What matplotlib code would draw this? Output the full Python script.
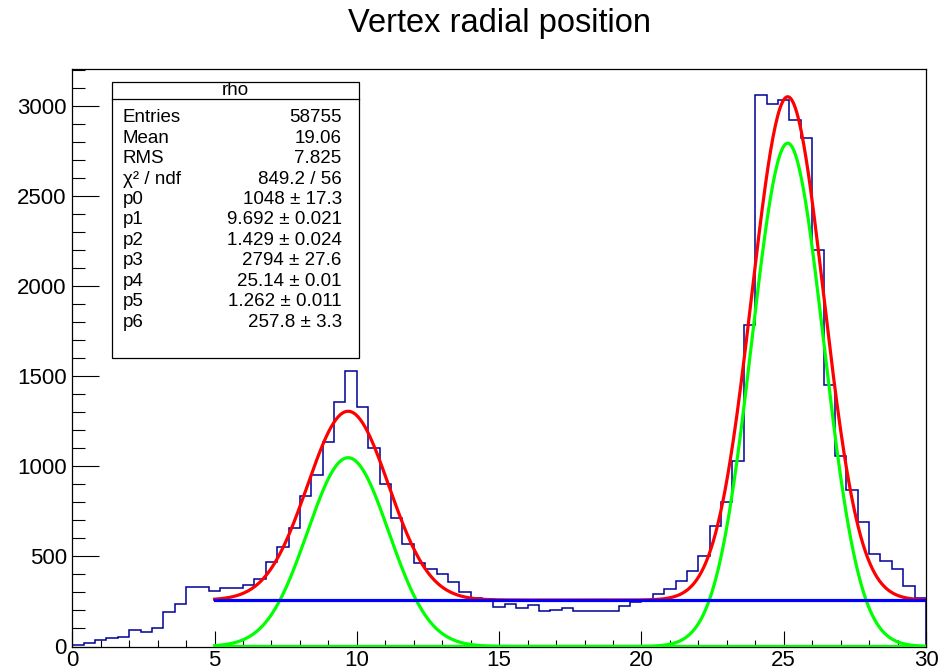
import numpy as np
import matplotlib
matplotlib.use("Agg")
import matplotlib.pyplot as plt
from matplotlib.patches import Rectangle
from matplotlib.lines import Line2D
from matplotlib.ticker import MultipleLocator

# ---- data ----
bin_edges = np.round(np.arange(0, 30.0001, 0.4), 4)
counts = [7, 20, 35, 45, 54, 89, 80, 104, 193, 234,
          332, 332, 306, 324, 326, 342, 375, 470, 555, 657,
          837, 953, 1133, 1356, 1532, 1328, 1100, 901, 716, 568,
          466, 432, 401, 360, 302, 271, 265, 221, 234, 211,
          230, 197, 204, 211, 197, 197, 197, 197, 224, 245,
          255, 290, 317, 363, 419, 503, 670, 803, 1031, 1783,
          3063, 3011, 3035, 2923, 2821, 2200, 1452, 1056, 870, 692,
          516, 475, 428, 336, 271]
fit_params = [1048, 9.692, 1.429, 2794, 25.14, 1.262, 257.8]
fit_range = [5, 30]

stat_title = "rho"
stat_labels = ["Entries", "Mean", "RMS", "\u03c7\u00b2 / ndf", "p0", "p1", "p2", "p3", "p4", "p5", "p6"]
stat_values = ["58755", "19.06", "7.825", "849.2 / 56", "1048 \u00b1 17.3", "9.692 \u00b1 0.021",
               "1.429 \u00b1 0.024", "2794 \u00b1 27.6", "25.14 \u00b1 0.01", "1.262 \u00b1 0.011",
               "257.8 \u00b1 3.3"]
title = "Vertex radial position"

plt.rcParams['font.family'] = ['Liberation Sans', 'DejaVu Sans']

W, H = 949, 672
fig = plt.figure(figsize=(W / 100, H / 100), dpi=100)
fig.patch.set_facecolor('white')

# frame in pixels
fl, fr, ft, fb = 72.3, 926.0, 69.3, 646.5
ax = fig.add_axes([fl / W, 1 - fb / H, (fr - fl) / W, (fb - ft) / H])

ax.stairs(counts, bin_edges, color='#000099', lw=1.1, baseline=0, zorder=2)

def gaus(x, a, m, s):
    return a * np.exp(-0.5 * ((x - m) / s) ** 2)

x = np.linspace(fit_range[0], fit_range[1], 600)
p = fit_params
total = gaus(x, p[0], p[1], p[2]) + gaus(x, p[3], p[4], p[5]) + p[6]
ax.plot(x, total, color='#ff0000', lw=2.3, zorder=3)
ax.plot(x, gaus(x, p[0], p[1], p[2]), color='#00ff00', lw=2.3, zorder=4)
ax.plot(x, gaus(x, p[3], p[4], p[5]), color='#00ff00', lw=2.3, zorder=4)
ax.plot(x, np.full_like(x, p[6]), color='#0000ff', lw=2.3, zorder=5)

ax.set_xlim(0, 30)
ax.set_ylim(0, 3204)
ax.xaxis.set_major_locator(MultipleLocator(5))
ax.xaxis.set_minor_locator(MultipleLocator(1))
ax.yaxis.set_major_locator(MultipleLocator(500))
ax.yaxis.set_minor_locator(MultipleLocator(100))
ax.tick_params(axis='x', which='major', direction='in', length=11.5, width=0.8, labelsize=16, pad=2.5)
ax.tick_params(axis='x', which='minor', direction='in', length=5.2, width=0.8)
ax.tick_params(axis='y', which='major', direction='in', length=19.2, width=0.8, labelsize=16, pad=4)
ax.tick_params(axis='y', which='minor', direction='in', length=9.6, width=0.8)
ax.tick_params(top=False, right=False, which='both')
for s in ax.spines.values():
    s.set_linewidth(0.9)
    s.set_color('black')

# title
fig.text(499 / W, 1 - 31.7 / H, title, ha='center', va='baseline', fontsize=23.5)

# stat box (figure pixel coordinates)
bl, br, bt, bb, bh = 111.7, 359.3, 82.3, 357.7, 99.0
fig.patches.append(Rectangle((bl / W, 1 - bb / H), (br - bl) / W, (bb - bt) / H,
                             transform=fig.transFigure, facecolor='white', edgecolor='black',
                             lw=0.9, zorder=10))
fig.lines.append(Line2D([bl / W, br / W], [1 - bh / H, 1 - bh / H], transform=fig.transFigure,
                        color='black', lw=0.9, zorder=11))
fig.text((bl + br) / 2 / W, 1 - 90.7 / H, stat_title, ha='center', va='center', fontsize=13.5, zorder=12)
for i, (lab, val) in enumerate(zip(stat_labels, stat_values)):
    yy = 1 - (117.7 + i * 20.45) / H
    fig.text(122.7 / W, yy, lab, ha='left', va='center', fontsize=13.5, zorder=12)
    fig.text(341.7 / W, yy, val, ha='right', va='center', fontsize=13.5, zorder=12)

fig.savefig('out.png', dpi=100)
